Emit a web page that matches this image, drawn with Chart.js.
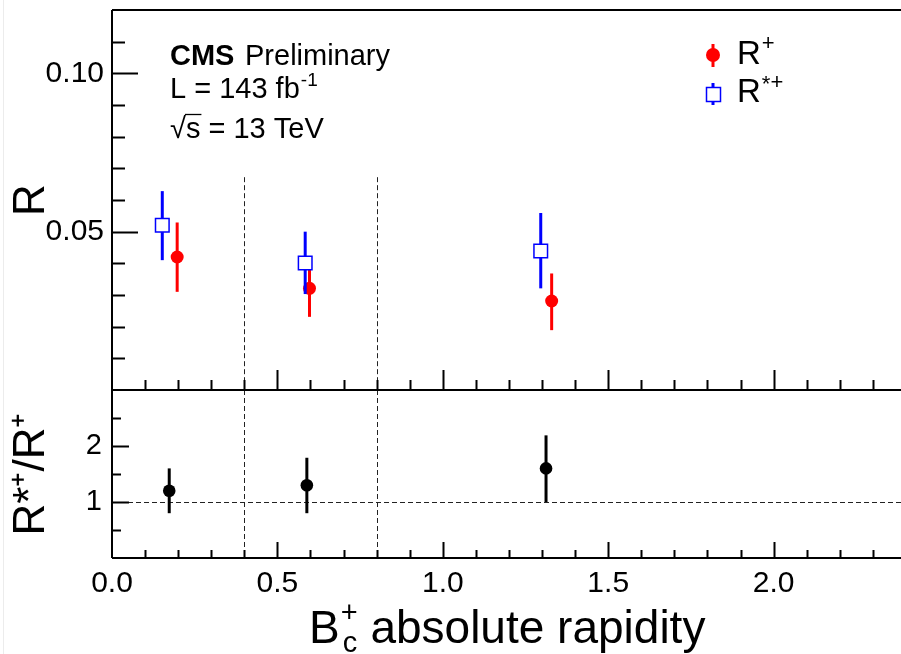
<!DOCTYPE html>
<html>
<head>
<meta charset="utf-8">
<script src="https://cdn.jsdelivr.net/npm/chart.js@4.4.1/dist/chart.umd.min.js"></script>
<style>
  html, body { margin: 0; padding: 0; background: #ffffff; overflow: hidden; }
  #wrap { position: relative; width: 901px; height: 654px; }
  canvas { position: absolute; left: 0; top: 0; }
  #edge { position: absolute; left: 3px; top: 0; width: 1px; height: 654px; background: #ececec; }
</style>
</head>
<body>
<div id="wrap">
  <div id="edge"></div>
  <canvas id="bottomChart" width="901" height="654"></canvas>
  <canvas id="topChart" width="901" height="654"></canvas>
</div>
<script>
// ---------------- data ----------------
const xMin = 0;
const xMax = 2.385;
const binEdges = [0.4, 0.8];
const edgeLineTopValue = 0.0672;

// R*+ (blue open squares)
const rStarX  = [0.152, 0.584, 1.296];
const rStarY  = [0.0520, 0.0401, 0.0439];
const rStarLo = [0.0410, 0.0303, 0.0321];
const rStarHi = [0.0628, 0.0500, 0.0559];

// R+ (red full circles)
const rPlusX  = [0.197, 0.597, 1.329];
const rPlusY  = [0.0420, 0.0321, 0.0281];
const rPlusLo = [0.0310, 0.0231, 0.0189];
const rPlusHi = [0.0529, 0.0410, 0.0368];

// ratio R*+/R+ (black circles)
const ratioX  = [0.173, 0.589, 1.312];
const ratioY  = [1.20, 1.30, 1.60];
const ratioLo = [0.80, 0.80, 1.00];
const ratioHi = [1.60, 1.79, 2.19];

// ticks
const xMajorTicks = [0, 0.5, 1.0, 1.5, 2.0];
const xTickLabels = ['0.0', '0.5', '1.0', '1.5', '2.0'];
const yTopTicks = [0.05, 0.10];
const yTopLabels = ['0.05', '0.10'];
const yBotTicks = [1, 2];
const yBotLabels = ['1', '2'];

// ---------------- helpers ----------------
const FONT = '"Liberation Sans", Arial, Helvetica, sans-serif';
Chart.defaults.font.family = FONT;
Chart.defaults.color = '#000';

function pts(xs, ys) { return xs.map((v, i) => ({ x: v, y: ys[i] })); }
function labelFor(v, ticks, labels) {
  const i = ticks.findIndex(t => Math.abs(t - v) < 1e-6);
  return i >= 0 ? labels[i] : '';
}
function fitY(s) { s.width = 112; s.paddingTop = 0; s.paddingBottom = 0; }

function drawErrorBars(chart, index, lw) {
  const ds = chart.data.datasets[index];
  if (!ds.lo) return;
  const { ctx, scales: { x, y } } = chart;
  ctx.save();
  ctx.strokeStyle = ds.errColor;
  ctx.lineWidth = lw;
  ds.data.forEach((p, i) => {
    const px = x.getPixelForValue(p.x);
    ctx.beginPath();
    ctx.moveTo(px, y.getPixelForValue(ds.lo[i]));
    ctx.lineTo(px, y.getPixelForValue(ds.hi[i]));
    ctx.stroke();
  });
  ctx.restore();
}

function drawXTicks(ctx, x, yBase, minorLen, majorLen) {
  ctx.beginPath();
  for (let i = 1; i <= Math.floor(xMax * 10 + 1e-6); i++) {
    const v = i / 10;
    const px = Math.round(x.getPixelForValue(v)) + 0.5;
    const len = (i % 5 === 0) ? majorLen : minorLen;
    ctx.moveTo(px, yBase);
    ctx.lineTo(px, yBase - len);
  }
  ctx.stroke();
}

// ---------------- top panel ----------------
const topPlugin = {
  id: 'topDecor',
  beforeDatasetsDraw(chart) {
    const { ctx, chartArea: a, scales: { x, y } } = chart;
    ctx.save();
    ctx.strokeStyle = '#222';
    ctx.lineWidth = 1;
    ctx.setLineDash([5, 3]);
    binEdges.forEach(e => {
      const px = Math.round(x.getPixelForValue(e)) + 0.5;
      ctx.beginPath();
      ctx.moveTo(px, y.getPixelForValue(edgeLineTopValue));
      ctx.lineTo(px, a.bottom);
      ctx.stroke();
    });
    ctx.restore();
  },
  beforeDatasetDraw(chart, args) {
    drawErrorBars(chart, args.index, 3);
  },
  afterDraw(chart) {
    const { ctx, chartArea: a, scales: { x, y } } = chart;
    ctx.save();
    ctx.strokeStyle = '#000';
    ctx.lineWidth = 2;
    ctx.beginPath();
    ctx.moveTo(a.left, a.top); ctx.lineTo(chart.width, a.top);
    ctx.moveTo(a.left, a.top); ctx.lineTo(a.left, a.bottom);
    ctx.moveTo(a.left, a.bottom); ctx.lineTo(chart.width, a.bottom);
    ctx.stroke();
    ctx.beginPath();
    for (let i = 1; i <= 11; i++) {
      const v = i / 100;
      const py = Math.round(y.getPixelForValue(v)) + 0.5;
      const major = yTopTicks.some(t => Math.abs(t - v) < 1e-6);
      ctx.moveTo(a.left, py);
      ctx.lineTo(a.left + (major ? 26 : 13), py);
    }
    ctx.stroke();
    drawXTicks(ctx, x, a.bottom, 10, 20);

    // texts
    ctx.fillStyle = '#000';
    ctx.textAlign = 'left';
    ctx.textBaseline = 'alphabetic';
    ctx.font = 'bold 29px ' + FONT;
    ctx.fillText('CMS', 170, 65);
    ctx.font = '29px ' + FONT;
    ctx.fillText('Preliminary', 245, 65);
    ctx.fillText('L = 143 fb', 170, 98);
    const wl = ctx.measureText('L = 143 fb').width;
    ctx.font = '19px ' + FONT;
    ctx.fillText('-1', 170 + wl + 1, 86);
    ctx.font = '29px ' + FONT;
    ctx.fillText('\u221As = 13 TeV', 170, 138);
    const wr = ctx.measureText('\u221A').width;
    const ws = ctx.measureText('s').width;
    ctx.lineWidth = 1.3;
    ctx.beginPath();
    ctx.moveTo(170 + wr - 1, 114.5);
    ctx.lineTo(170 + wr + ws + 1, 114.5);
    ctx.stroke();

    // legend
    ctx.strokeStyle = '#ff0000';
    ctx.fillStyle = '#ff0000';
    ctx.lineWidth = 3;
    ctx.beginPath(); ctx.moveTo(713, 44); ctx.lineTo(713, 67); ctx.stroke();
    ctx.beginPath(); ctx.arc(713, 55, 7, 0, Math.PI * 2); ctx.fill();
    ctx.strokeStyle = '#0000ff';
    ctx.lineWidth = 3;
    ctx.beginPath(); ctx.moveTo(713, 83); ctx.lineTo(713, 105); ctx.stroke();
    ctx.fillStyle = '#ffffff';
    ctx.fillRect(706, 87, 14, 14);
    ctx.lineWidth = 1.5;
    ctx.strokeRect(706.5, 87.5, 14, 14);

    ctx.fillStyle = '#000';
    ctx.font = '33px ' + FONT;
    ctx.fillText('R', 737, 64);
    const wR = ctx.measureText('R').width;
    ctx.fillText('R', 737, 102);
    ctx.font = '22px ' + FONT;
    ctx.fillText('+', 737 + wR + 1, 50);
    ctx.fillText('*', 737 + wR + 1, 91);
    const wStar = ctx.measureText('*').width;
    ctx.fillText('+', 737 + wR + wStar + 1, 89);
    ctx.restore();
  }
};

new Chart(document.getElementById('topChart'), {
  type: 'scatter',
  data: {
    datasets: [
      {
        label: 'R*+',
        data: pts(rStarX, rStarY),
        lo: rStarLo, hi: rStarHi, errColor: '#0000ff',
        pointStyle: 'rect',
        pointRadius: 9.6,
        pointHoverRadius: 9.6,
        backgroundColor: '#ffffff',
        borderColor: '#0000ff',
        pointBorderWidth: 1.5,
        showLine: false
      },
      {
        label: 'R+',
        data: pts(rPlusX, rPlusY),
        lo: rPlusLo, hi: rPlusHi, errColor: '#ff0000',
        pointStyle: 'circle',
        pointRadius: 6.5,
        pointHoverRadius: 6.5,
        backgroundColor: '#ff0000',
        borderColor: '#ff0000',
        pointBorderWidth: 0,
        showLine: false
      }
    ]
  },
  options: {
    responsive: false,
    animation: false,
    devicePixelRatio: 1,
    events: [],
    layout: { autoPadding: false, padding: { top: 10, right: 0, bottom: 264, left: 0 } },
    plugins: { legend: { display: false }, tooltip: { enabled: false } },
    scales: {
      x: {
        type: 'linear', min: xMin, max: xMax, display: false
      },
      y: {
        type: 'linear', min: 0, max: 0.12,
        grid: { display: false, drawTicks: false },
        border: { display: false },
        ticks: {
          stepSize: 0.01,
          autoSkip: false,
          padding: 8,
          font: { size: 30 },
          color: '#000',
          callback: v => labelFor(v, yTopTicks, yTopLabels)
        },
        title: {
          display: true, text: 'R', color: '#000',
          font: { size: 44, lineHeight: 1.2 },
          padding: { top: 5, bottom: 0 }
        },
        afterFit: fitY
      }
    }
  },
  plugins: [topPlugin]
});

// ---------------- bottom (ratio) panel ----------------
const botPlugin = {
  id: 'botDecor',
  beforeDatasetsDraw(chart) {
    const { ctx, chartArea: a, scales: { x, y } } = chart;
    ctx.save();
    ctx.strokeStyle = '#222';
    ctx.lineWidth = 1;
    ctx.setLineDash([5, 3]);
    binEdges.forEach(e => {
      const px = Math.round(x.getPixelForValue(e)) + 0.5;
      ctx.beginPath();
      ctx.moveTo(px, a.top);
      ctx.lineTo(px, a.bottom);
      ctx.stroke();
    });
    const py = Math.round(y.getPixelForValue(1)) + 0.5;
    ctx.beginPath();
    ctx.moveTo(a.left, py);
    ctx.lineTo(chart.width, py);
    ctx.stroke();
    ctx.restore();
  },
  beforeDatasetDraw(chart, args) {
    drawErrorBars(chart, args.index, 3);
  },
  afterDraw(chart) {
    const { ctx, chartArea: a, scales: { x, y } } = chart;
    ctx.save();
    ctx.strokeStyle = '#000';
    ctx.lineWidth = 2;
    ctx.beginPath();
    ctx.moveTo(a.left, a.top); ctx.lineTo(a.left, a.bottom);
    ctx.moveTo(a.left, a.bottom); ctx.lineTo(chart.width, a.bottom);
    ctx.stroke();
    ctx.beginPath();
    for (let i = 1; i <= 5; i++) {
      const v = i * 0.5;
      const py = Math.round(y.getPixelForValue(v)) + 0.5;
      const major = yBotTicks.some(t => Math.abs(t - v) < 1e-6);
      ctx.moveTo(a.left, py);
      ctx.lineTo(a.left + (major ? 17 : 9), py);
    }
    ctx.stroke();
    drawXTicks(ctx, x, a.bottom, 8, 16);

    // x-axis title with sub/superscript
    ctx.fillStyle = '#000';
    ctx.textAlign = 'left';
    ctx.textBaseline = 'alphabetic';
    const x0 = 309, base = 643;
    ctx.font = '46px ' + FONT;
    ctx.fillText('B', x0, base);
    const wB = ctx.measureText('B').width;
    ctx.font = '29px ' + FONT;
    ctx.fillText('+', x0 + wB + 1, base - 21);
    ctx.fillText('c', x0 + wB + 3, base + 9);
    const wc = ctx.measureText('+').width;
    ctx.font = '46px ' + FONT;
    ctx.fillText(' absolute rapidity', x0 + wB + wc + 1, base);
    ctx.restore();
  }
};

new Chart(document.getElementById('bottomChart'), {
  type: 'scatter',
  data: {
    datasets: [
      {
        label: 'R*+/R+',
        data: pts(ratioX, ratioY),
        lo: ratioLo, hi: ratioHi, errColor: '#000000',
        pointStyle: 'circle',
        pointRadius: 6.3,
        pointHoverRadius: 6.3,
        backgroundColor: '#000000',
        borderColor: '#000000',
        pointBorderWidth: 0,
        showLine: false
      }
    ]
  },
  options: {
    responsive: false,
    animation: false,
    devicePixelRatio: 1,
    events: [],
    layout: { autoPadding: false, padding: { top: 390, right: 0, bottom: 0, left: 0 } },
    plugins: { legend: { display: false }, tooltip: { enabled: false } },
    scales: {
      x: {
        type: 'linear', min: xMin, max: xMax,
        grid: { display: false, drawTicks: false },
        border: { display: false },
        ticks: {
          stepSize: 0.1,
          autoSkip: false,
          maxRotation: 0,
          padding: 8,
          font: { size: 30 },
          color: '#000',
          callback: v => labelFor(v, xMajorTicks, xTickLabels)
        },
        afterFit: s => { s.height = 96; s.paddingLeft = 0; s.paddingRight = 0; }
      },
      y: {
        type: 'linear', min: 0, max: 3,
        grid: { display: false, drawTicks: false },
        border: { display: false },
        ticks: {
          stepSize: 0.5,
          autoSkip: false,
          padding: 10,
          font: { size: 29 },
          color: '#000',
          callback: v => labelFor(v, yBotTicks, yBotLabels)
        },
        title: {
          display: true, text: 'R*\u207A/R\u207A', color: '#000',
          font: { size: 44, lineHeight: 1.2 },
          padding: { top: 5, bottom: 0 }
        },
        afterFit: fitY
      }
    }
  },
  plugins: [botPlugin]
});
</script>
</body>
</html>
